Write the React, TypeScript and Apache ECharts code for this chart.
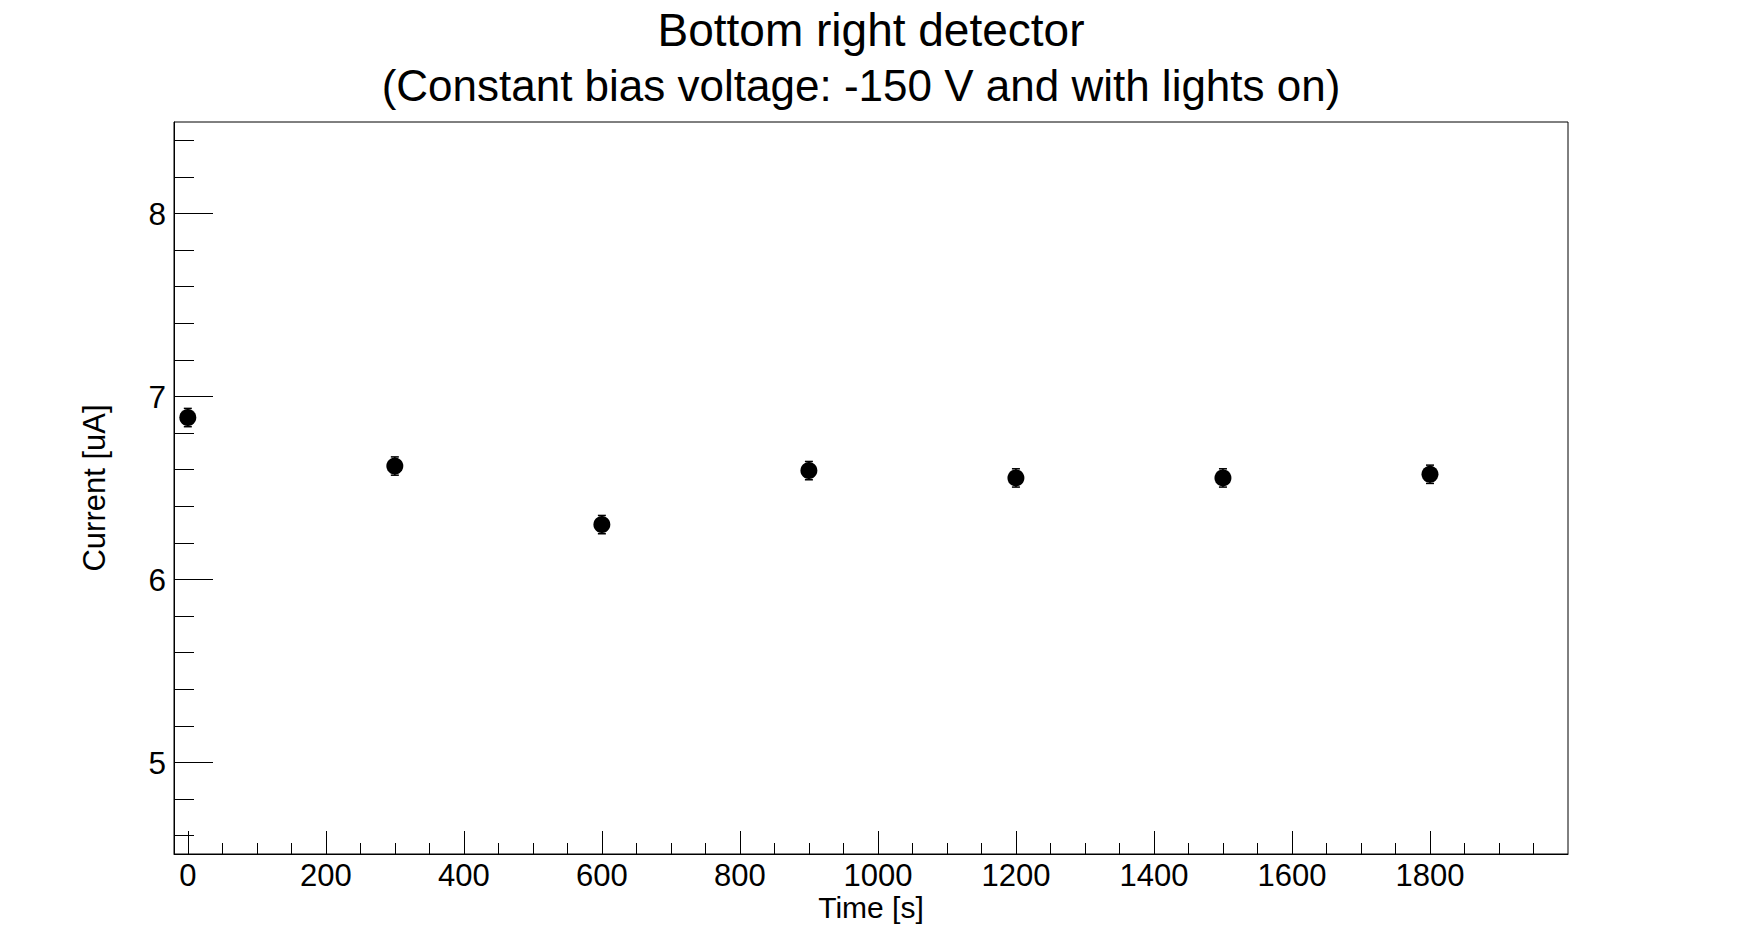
import React, { useEffect, useRef } from "react";
import * as echarts from "echarts";

const titleLine1 = "Bottom right detector";
const titleLine2 = "(Constant bias voltage: -150 V and with lights on)";
const xName = "Time [s]";
const yName = "Current [uA]";

const timeValues = [0, 300, 600, 900, 1200, 1500, 1800];
const currentValues = [6.885, 6.62, 6.3, 6.595, 6.555, 6.555, 6.575];
const currentErrors = [0.05, 0.05, 0.05, 0.05, 0.05, 0.05, 0.05];

const xMajorTicks = [0, 200, 400, 600, 800, 1000, 1200, 1400, 1600, 1800];
const xMinorTicks = [
  0, 50, 100, 150, 200, 250, 300, 350, 400, 450, 500, 550, 600, 650, 700, 750,
  800, 850, 900, 950, 1000, 1050, 1100, 1150, 1200, 1250, 1300, 1350, 1400,
  1450, 1500, 1550, 1600, 1650, 1700, 1750, 1800, 1850, 1900, 1950,
];
const yMajorTicks = [5, 6, 7, 8];
const yMinorTicks = [
  4.6, 4.8, 5.0, 5.2, 5.4, 5.6, 5.8, 6.0, 6.2, 6.4, 6.6, 6.8, 7.0, 7.2, 7.4,
  7.6, 7.8, 8.0, 8.2, 8.4,
];

const X_MIN = -20;
const X_MAX = 2000;
const Y_MIN = 4.5;
const Y_MAX = 8.5;

const FONT = "Liberation Sans";

export default function App() {
  const ref = useRef<HTMLDivElement>(null);

  useEffect(() => {
    if (!ref.current) return;
    const chart = echarts.init(ref.current, undefined, { renderer: "svg" });

    const points = timeValues.map((t, i) => [t, currentValues[i], currentErrors[i]]);

    const axisCommon = {
      type: "value" as const,
      splitLine: { show: false },
    };

    const option: any = {
      animation: false,
      backgroundColor: "#ffffff",
      textStyle: { fontFamily: FONT, color: "#000" },
      graphic: [
        {
          type: "text",
          x: 871,
          y: 30,
          style: {
            text: titleLine1,
            fontSize: 46,
            fontFamily: FONT,
            fill: "#000",
            align: "center",
            verticalAlign: "middle",
            textAlign: "center",
            textVerticalAlign: "middle",
          },
        },
        {
          type: "text",
          x: 861,
          y: 85,
          style: {
            text: titleLine2,
            fontSize: 44,
            fontFamily: FONT,
            fill: "#000",
            align: "center",
            verticalAlign: "middle",
            textAlign: "center",
            textVerticalAlign: "middle",
          },
        },
      ],
      grid: {
        left: 174,
        right: 175,
        top: 122,
        bottom: 95,
        show: true,
        borderColor: "#000",
        borderWidth: 1,
        backgroundColor: "transparent",
      },
      xAxis: [
        {
          ...axisCommon,
          min: X_MIN,
          max: X_MAX,
          position: "bottom",
          name: xName,
          nameLocation: "middle",
          nameGap: 40,
          nameMoveOverlap: false,
          nameTextStyle: { fontSize: 30, lineHeight: 26, fontFamily: FONT, color: "#000" },
          axisLine: { show: true, onZero: false, lineStyle: { color: "#000", width: 1 } },
          axisTick: {
            show: true,
            inside: true,
            length: 23,
            customValues: xMajorTicks,
            lineStyle: { color: "#000", width: 1 },
          },
          axisLabel: {
            show: true,
            customValues: xMajorTicks,
            formatter: (v: number) => String(v),
            margin: 8.5,
            fontSize: 31,
            lineHeight: 26,
            fontFamily: FONT,
            color: "#000",
          },
        },
        {
          ...axisCommon,
          min: X_MIN,
          max: X_MAX,
          position: "bottom",
          axisLine: { show: false, onZero: false },
          axisLabel: { show: false },
          axisTick: {
            show: true,
            inside: true,
            length: 11,
            customValues: xMinorTicks,
            lineStyle: { color: "#000", width: 1 },
          },
        },
      ],
      yAxis: [
        {
          ...axisCommon,
          min: Y_MIN,
          max: Y_MAX,
          position: "left",
          name: yName,
          nameLocation: "middle",
          nameGap: 64,
          nameMoveOverlap: false,
          nameTextStyle: { fontSize: 31, fontFamily: FONT, color: "#000" },
          axisLine: { show: true, onZero: false, lineStyle: { color: "#000", width: 1 } },
          axisTick: {
            show: true,
            inside: true,
            length: 39,
            customValues: yMajorTicks,
            lineStyle: { color: "#000", width: 1 },
          },
          axisLabel: {
            show: true,
            customValues: yMajorTicks,
            formatter: (v: number) => String(v),
            margin: 8,
            fontSize: 31.5,
            fontFamily: FONT,
            color: "#000",
          },
        },
        {
          ...axisCommon,
          min: Y_MIN,
          max: Y_MAX,
          position: "left",
          axisLine: { show: false, onZero: false },
          axisLabel: { show: false },
          axisTick: {
            show: true,
            inside: true,
            length: 20,
            customValues: yMinorTicks,
            lineStyle: { color: "#000", width: 1 },
          },
        },
      ],
      series: [
        {
          type: "custom",
          xAxisIndex: 0,
          yAxisIndex: 0,
          data: points,
          encode: { x: 0, y: 1 },
          renderItem: (params: any, api: any) => {
            const x = api.value(0);
            const y = api.value(1);
            const e = api.value(2);
            const top = api.coord([x, y + e]);
            const bot = api.coord([x, y - e]);
            const cap = 4;
            const st = { stroke: "#000", lineWidth: 1.5 };
            return {
              type: "group",
              children: [
                { type: "line", shape: { x1: top[0], y1: top[1], x2: bot[0], y2: bot[1] }, style: st },
                { type: "line", shape: { x1: top[0] - cap, y1: top[1], x2: top[0] + cap, y2: top[1] }, style: st },
                { type: "line", shape: { x1: bot[0] - cap, y1: bot[1], x2: bot[0] + cap, y2: bot[1] }, style: st },
              ],
            };
          },
          z: 2,
        },
        {
          type: "scatter",
          xAxisIndex: 0,
          yAxisIndex: 0,
          data: points.map((p) => [p[0], p[1]]),
          symbol: "circle",
          symbolSize: 17,
          itemStyle: { color: "#000", opacity: 1 },
          z: 3,
        },
      ],
    };

    chart.setOption(option);
    return () => chart.dispose();
  }, []);

  return (
    <div
      ref={ref}
      style={{ position: "fixed", left: 0, top: 0, width: 1743, height: 949, background: "#fff" }}
    />
  );
}
